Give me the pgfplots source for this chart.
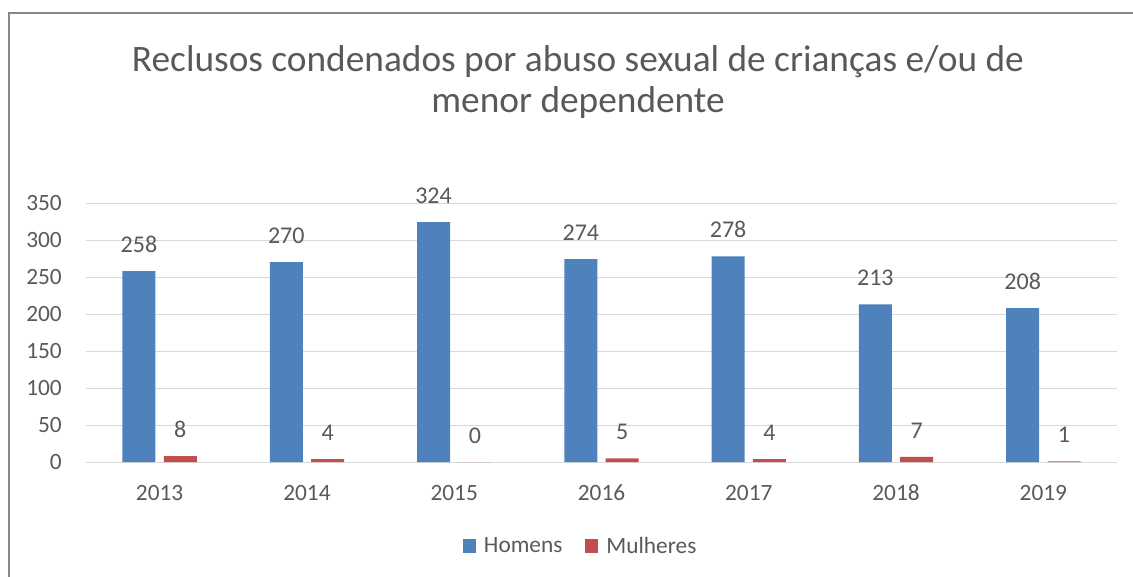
\documentclass[border=0pt]{standalone}
\usepackage{pgfplots}
\pgfplotsset{compat=1.18}
\usepackage{fontspec}
\setmainfont{Carlito}
\definecolor{homens}{HTML}{4F81BD}
\definecolor{mulheres}{HTML}{C0504D}
\definecolor{txt}{HTML}{595959}
\definecolor{grd}{HTML}{D9D9D9}
\definecolor{frm}{HTML}{878787}
\begin{document}
\begin{tikzpicture}
\useasboundingbox (0pt,0pt) rectangle (849.75pt,-432.75pt);
\begin{scope}[x=0.75pt,y=-0.75pt]
\draw[frm, line width=0.9pt] (9,578) -- (9,13) -- (1134,13);
\node[txt, font=\fontsize{28}{31}\selectfont, align=center] at (578,82) {Reclusos condenados por abuso sexual de crianças e/ou de\\menor dependente};
\end{scope}
\begin{axis}[
at={(64.5pt,-346.5pt)}, anchor=south west,
scale only axis, width=773.25pt, height=194.25pt,
xmin=-0.5, xmax=6.5, ymin=0, ymax=350,
xtick={0,...,6}, xticklabels={2013,2014,2015,2016,2017,2018,2019},
ytick={0,50,...,350},
axis line style={draw=none},
ymajorgrids, grid style={grd, line width=0.75pt},
major tick length=0pt,
tick label style={txt, font=\fontsize{17.5}{20}\selectfont},
/pgf/number format/assume math mode=true,
yticklabel style={inner sep=0pt, xshift=-18pt},
xticklabel style={inner sep=0pt, yshift=-17pt},
bar width=24.75pt,
nodes near coords,
every node near coord/.append style={txt, font=\fontsize{18}{20}\selectfont, inner sep=0pt, anchor=south, yshift=13.5pt},
legend columns=2,
legend style={at={(0.48,-0.324)}, anchor=center, draw=none, fill=none, font=\fontsize{17.5}{20}\selectfont, text=txt,
  /tikz/every even column/.append style={column sep=15pt}},
legend cell align=left,
]
\addplot[ybar, bar shift=-15.5pt, fill=homens, draw=none,
  every node near coord/.append style={xshift=-15.5pt},
  legend image code/.code={\fill[homens] (0pt,-5pt) rectangle (10pt,5pt); \path (14pt,0pt);}]
  coordinates {(0,258) (1,270) (2,324) (3,274) (4,278) (5,213) (6,208)};
\addlegendentry{Homens}
\addplot[ybar, bar shift=15.5pt, fill=mulheres, draw=none,
  every node near coord/.append style={xshift=15.5pt},
  legend image code/.code={\fill[mulheres] (0pt,-5pt) rectangle (10pt,5pt); \path (14pt,0pt);}]
  coordinates {(0,8) (1,4) (2,0) (3,5) (4,4) (5,7) (6,1)};
\addlegendentry{Mulheres}
\end{axis}
\end{tikzpicture}
\end{document}
